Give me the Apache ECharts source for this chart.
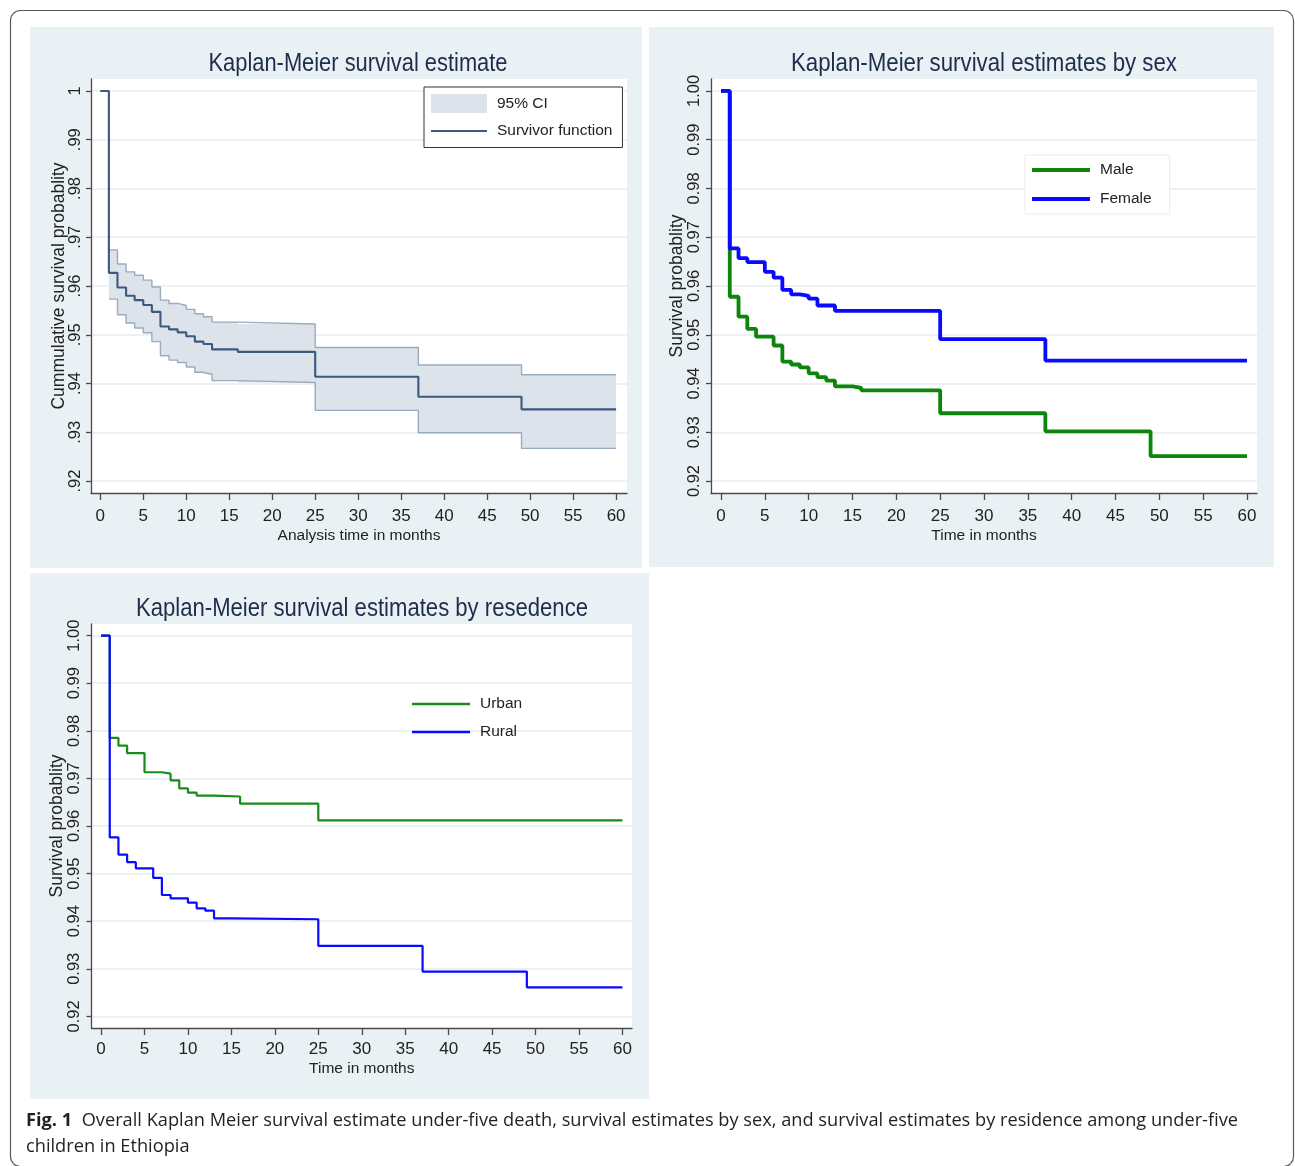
<!DOCTYPE html>
<html>
<head>
<meta charset="utf-8">
<script src="https://cdn.jsdelivr.net/npm/echarts@6/dist/echarts.min.js"></script>
<style>
html,body{margin:0;padding:0;background:#ffffff;}
#c{width:1295px;height:1166px;}
</style>
</head>
<body>
<div id="c"></div>
<script>
// ---------- tick labels ----------
const xTicks = [0, 5, 10, 15, 20, 25, 30, 35, 40, 45, 50, 55, 60];
const xTickLabels = ['0','5','10','15','20','25','30','35','40','45','50','55','60'];
const yTicks = [0.92, 0.93, 0.94, 0.95, 0.96, 0.97, 0.98, 0.99, 1.00];
const yTickLabelsP1 = ['.92','.93','.94','.95','.96','.97','.98','.99','1'];
const yTickLabelsP23 = ['0.92','0.93','0.94','0.95','0.96','0.97','0.98','0.99','1.00'];

// ---------- panel 1: overall KM with 95% CI ----------
const kmTimes = [0, 1, 2, 3, 4, 5, 6, 7, 8, 9, 10, 11, 12, 13, 16, 25, 37, 49, 60];
const kmSurv  = [1.0, 0.9627, 0.9597, 0.9580, 0.9571, 0.9561, 0.9547, 0.9517, 0.9511, 0.9505, 0.9497, 0.9486, 0.9481, 0.9470, 0.9465, 0.9414, 0.9373, 0.9347, 0.9347];
const ciTimes = [1, 2, 3, 4, 5, 6, 7, 8, 9, 10, 11, 12, 13, 16, 25, 37, 49, 60];
const ciUpper = [0.9674, 0.9645, 0.9629, 0.9622, 0.9612, 0.9598, 0.9571, 0.9564, 0.9560, 0.9552, 0.9543, 0.9537, 0.9526, 0.9522, 0.9474, 0.9438, 0.9418, 0.9418];
const ciLower = [0.9573, 0.9541, 0.9524, 0.9514, 0.9504, 0.9486, 0.9457, 0.9448, 0.9443, 0.9434, 0.9423, 0.9419, 0.9406, 0.9402, 0.9345, 0.9299, 0.9267, 0.9267];

// ---------- panel 2: by sex ----------
const maleTimes = [0, 1, 2, 3, 4, 6, 7, 8, 9, 10, 11, 12, 13, 15, 16, 25, 37, 49, 60];
const maleSurv  = [1.0, 0.9578, 0.9537, 0.9512, 0.9496, 0.9478, 0.9445, 0.9439, 0.9433, 0.9421, 0.9413, 0.9406, 0.9394, 0.9391, 0.9386, 0.9339, 0.9302, 0.9251, 0.9251];
const femaleTimes = [0, 1, 2, 3, 5, 6, 7, 8, 9, 10, 11, 13, 25, 37, 60];
const femaleSurv  = [1.0, 0.9677, 0.9657, 0.9649, 0.9629, 0.9617, 0.9592, 0.9583, 0.9580, 0.9574, 0.9560, 0.9549, 0.9491, 0.9447, 0.9447];

// ---------- panel 3: by residence ----------
const urbanTimes = [0, 1, 2, 3, 5, 7, 8, 9, 10, 11, 13, 16, 25, 60];
const urbanSurv  = [1.0, 0.9785, 0.9769, 0.9753, 0.9713, 0.9710, 0.9696, 0.9679, 0.9670, 0.9664, 0.9662, 0.9647, 0.9612, 0.9612];
const ruralTimes = [0, 1, 2, 3, 4, 6, 7, 8, 10, 11, 12, 13, 15, 25, 37, 49, 60];
const ruralSurv  = [1.0, 0.9576, 0.9540, 0.9524, 0.9511, 0.9491, 0.9455, 0.9448, 0.9439, 0.9427, 0.9422, 0.9406, 0.9404, 0.9348, 0.9294, 0.9261, 0.9261];

// ---------- texts ----------
const titles = ['Kaplan-Meier survival estimate', 'Kaplan-Meier survival estimates by sex', 'Kaplan-Meier survival estimates by resedence'];
const xNames = ['Analysis time in months', 'Time in months', 'Time in months'];
const yNames = ['Cummulative survival probablity', 'Survival probablity', 'Survival probablity'];
const captionBold = 'Fig. 1';
const captionLine1 = 'Overall Kaplan Meier survival estimate under-five death, survival estimates by sex, and survival estimates by residence among under-five';
const captionLine2 = 'children in Ethiopia';

// ---------- helpers ----------
const FONT = '"Liberation Sans", Arial, Helvetica, sans-serif';
const CAPFONT = '"Open Sans", "Noto Sans", sans-serif';
const BG = '#eaf1f4';
const TXT = '#222222';
const AXIS = '#4a4a4a';
const GRIDLINE = '#e6eef1';

// legend line icons (thin bar inside an invisible bounding box)
const ICON_P1_LINE = 'path://M0,0L0,0M0,8.5L56,8.5L56,10.5L0,10.5ZM56,19L56,19';
const ICON_P2_LINE = 'path://M0,0L0,0M0,5L58,5L58,9L0,9ZM58,14L58,14';
const ICON_P3_LINE = 'path://M0,0L0,0M0,5.8L58,5.8L58,8.2L0,8.2ZM58,14L58,14';

const mctx = document.createElement('canvas').getContext('2d');
function textW(t, font) { mctx.font = font; return mctx.measureText(t).width; }
function pairs(ts, vs) { return ts.map((t, i) => [t, vs[i]]); }

function xAxisFor(gi, min, max, name, labelMargin, nameGap) {
  return {
    type: 'value', gridIndex: gi, min: min, max: max, splitNumber: 12,
    name: name, nameLocation: 'middle', nameGap: nameGap, nameMoveOverlap: false,
    nameTextStyle: { fontFamily: FONT, fontSize: 15.5, color: TXT },
    axisLine: { show: true, onZero: false, lineStyle: { color: AXIS, width: 1.3 } },
    axisTick: { show: true, customValues: xTicks, length: 7, lineStyle: { color: AXIS, width: 1.3 } },
    axisLabel: { customValues: xTicks, margin: labelMargin, fontFamily: FONT, fontSize: 17, color: TXT,
      formatter: v => xTickLabels[xTicks.indexOf(Math.round(v))] },
    splitLine: { show: false }
  };
}
function yAxisFor(gi, labels, name, labelMargin, nameGap) {
  return {
    type: 'value', gridIndex: gi, min: 0.91755, max: 1.00245, splitNumber: 8,
    name: name, nameLocation: 'middle', nameGap: nameGap, nameMoveOverlap: false,
    nameTextStyle: { fontFamily: FONT, fontSize: 17.5, color: TXT },
    axisLine: { show: true, onZero: false, lineStyle: { color: AXIS, width: 1.3 } },
    axisTick: { show: true, customValues: yTicks, length: 5, lineStyle: { color: AXIS, width: 1.3 } },
    axisLabel: { customValues: yTicks, rotate: 90, margin: labelMargin, fontFamily: FONT, fontSize: 16.5, color: TXT,
      formatter: v => labels[Math.round((v - 0.92) * 100)] },
    splitLine: { show: true, lineStyle: { color: GRIDLINE, width: 1.5 } }
  };
}
function stepLine(name, gi, ts, vs, color, width, z) {
  return {
    name: name, type: 'line', xAxisIndex: gi, yAxisIndex: gi, step: 'end',
    data: pairs(ts, vs), symbol: 'none', showSymbol: false, z: z,
    lineStyle: { color: color, width: width }, itemStyle: { color: color },
    emphasis: { disabled: true }, silent: true
  };
}

// title graphics, squeezed horizontally like the reference
const titleFont = '25px ' + FONT;
const titleSpec = [
  { x: 358, y: 64, w: 299 },
  { x: 984, y: 64, w: 386 },
  { x: 362, y: 609, w: 452 }
];
const titleGraphics = titles.map((t, i) => ({
  type: 'text', x: titleSpec[i].x, y: titleSpec[i].y,
  scaleX: titleSpec[i].w / textW(t, titleFont), z: 10,
  style: { text: t, font: titleFont, fill: '#1e2d4b', textAlign: 'center', textVerticalAlign: 'middle' }
}));

// caption
const capSize = 18;
const capBoldW = textW(captionBold + '  ', 'bold ' + capSize + 'px ' + CAPFONT);
const capNormW = textW(captionLine1, capSize + 'px ' + CAPFONT);
const capScale = 1212 / (capBoldW + capNormW);

const legendText = { fontFamily: FONT, fontSize: 15.5, color: TXT, padding: [0, 0, 0, 5] };

const chart = echarts.init(document.getElementById('c'), null, { renderer: 'canvas' });
chart.setOption({
  animation: false,
  backgroundColor: '#ffffff',
  graphic: [
    { type: 'rect', z: -10, shape: { x: 10.5, y: 10.5, width: 1283, height: 1156, r: 10 },
      style: { fill: '#ffffff', stroke: '#5a5a5a', lineWidth: 1.2 } },
    { type: 'rect', z: -9, shape: { x: 30, y: 27, width: 612, height: 541 }, style: { fill: BG } },
    { type: 'rect', z: -9, shape: { x: 649, y: 27, width: 625, height: 540 }, style: { fill: BG } },
    { type: 'rect', z: -9, shape: { x: 30, y: 573, width: 619, height: 526 }, style: { fill: BG } },
    ...titleGraphics,
    { type: 'text', x: 26, y: 1121, scaleX: capScale, z: 10,
      style: { text: '{b|' + captionBold + '}  ' + captionLine1, font: capSize + 'px ' + CAPFONT, fill: '#231f20',
        textVerticalAlign: 'middle',
        rich: { b: { fontWeight: 'bold', fontFamily: CAPFONT, fontSize: capSize, fill: '#231f20' } } } },
    { type: 'text', x: 26, y: 1147, scaleX: capScale, z: 10,
      style: { text: captionLine2, font: capSize + 'px ' + CAPFONT, fill: '#231f20', textVerticalAlign: 'middle' } }
  ],
  grid: [
    { left: 91, top: 79, width: 536, height: 414, show: true, backgroundColor: '#ffffff', borderWidth: 0, containLabel: false },
    { left: 711, top: 79, width: 546, height: 414, show: true, backgroundColor: '#ffffff', borderWidth: 0, containLabel: false },
    { left: 91.5, top: 624, width: 540.5, height: 404, show: true, backgroundColor: '#ffffff', borderWidth: 0, containLabel: false }
  ],
  xAxis: [
    xAxisFor(0, -1.08, 61.27, xNames[0], 15, 35),
    xAxisFor(1, -1.14, 61.14, xNames[1], 15, 35),
    xAxisFor(2, -1.10, 61.10, xNames[2], 13, 33)
  ],
  yAxis: [
    yAxisFor(0, yTickLabelsP1, yNames[0], 7, 23),
    yAxisFor(1, yTickLabelsP23, yNames[1], 8, 25),
    yAxisFor(2, yTickLabelsP23, yNames[2], 9, 25)
  ],
  legend: [
    { data: [
        { name: '95% CI', icon: 'rect', itemStyle: { color: '#dde3ea', borderWidth: 0 } },
        { name: 'Survivor function', icon: ICON_P1_LINE, itemStyle: { borderWidth: 0 } }
      ],
      orient: 'vertical', left: 424, top: 87, padding: [7, 10, 7, 7], itemWidth: 56, itemHeight: 19, itemGap: 8.5,
      backgroundColor: '#ffffff', borderColor: '#333333', borderWidth: 1, selectedMode: false,
      textStyle: legendText },
    { data: [
        { name: 'Male', icon: ICON_P2_LINE, itemStyle: { borderWidth: 0 } },
        { name: 'Female', icon: ICON_P2_LINE, itemStyle: { borderWidth: 0 } }
      ],
      orient: 'vertical', left: 1025, top: 155, padding: [7, 18, 7, 7], itemWidth: 58, itemHeight: 14, itemGap: 13,
      backgroundColor: '#ffffff', borderColor: '#ececec', borderWidth: 1, selectedMode: false,
      textStyle: legendText },
    { data: [
        { name: 'Urban', icon: ICON_P3_LINE, itemStyle: { borderWidth: 0 } },
        { name: 'Rural', icon: ICON_P3_LINE, itemStyle: { borderWidth: 0 } }
      ],
      orient: 'vertical', left: 405, top: 689, padding: [7, 15, 7, 7], itemWidth: 58, itemHeight: 14, itemGap: 12,
      backgroundColor: 'transparent', borderWidth: 0, selectedMode: false,
      textStyle: legendText }
  ],
  series: [
    {
      name: '95% CI', type: 'custom', xAxisIndex: 0, yAxisIndex: 0, z: 1, silent: true,
      itemStyle: { color: '#dde3ea' },
      data: ciTimes.map((t, i) => [t, ciLower[i], ciUpper[i]]),
      encode: { x: 0, y: [1, 2] },
      renderItem: function (params, api) {
        if (params.dataIndex !== 0) return null;
        const top = [], bot = [];
        for (let i = 0; i < ciTimes.length; i++) {
          const t0 = ciTimes[i];
          const t1 = i < ciTimes.length - 1 ? ciTimes[i + 1] : ciTimes[i];
          top.push(api.coord([t0, ciUpper[i]]), api.coord([t1, ciUpper[i]]));
          bot.push(api.coord([t0, ciLower[i]]), api.coord([t1, ciLower[i]]));
        }
        return { type: 'polygon', shape: { points: top.concat(bot.reverse()) }, style: { fill: api.visual('color') } };
      }
    },
    stepLine('CI upper', 0, ciTimes, ciUpper, '#9aabbd', 1.4, 2),
    stepLine('CI lower', 0, ciTimes, ciLower, '#9aabbd', 1.4, 2),
    stepLine('Survivor function', 0, kmTimes, kmSurv, '#3b5a7e', 2.1, 3),
    stepLine('Male', 1, maleTimes, maleSurv, '#0b860b', 3.8, 2),
    stepLine('Female', 1, femaleTimes, femaleSurv, '#0a0aff', 3.8, 3),
    stepLine('Urban', 2, urbanTimes, urbanSurv, '#1a8a1a', 2.2, 2),
    stepLine('Rural', 2, ruralTimes, ruralSurv, '#0a0aff', 2.2, 3)
  ]
});
</script>
</body>
</html>
